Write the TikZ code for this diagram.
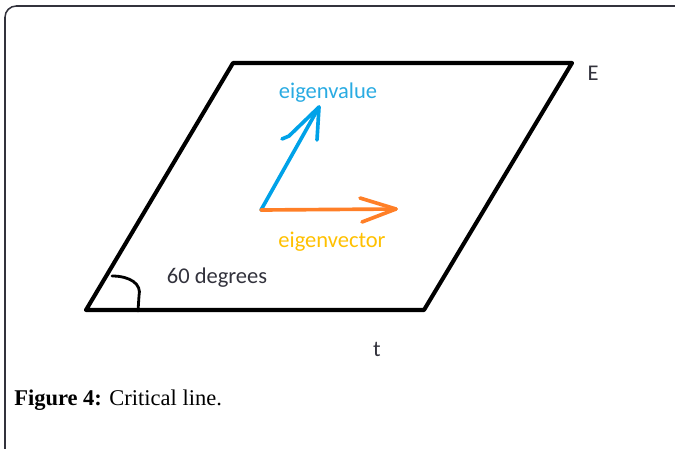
\documentclass[tikz,border=0pt]{standalone}
\usepackage{fontspec}
\setmainfont{Liberation Serif}
\newfontfamily\lblfont{Carlito}
\definecolor{vBlue}{RGB}{0,162,232}
\definecolor{vOrange}{RGB}{255,127,39}
\definecolor{tBlue}{RGB}{41,171,226}
\definecolor{tGold}{RGB}{255,192,0}
\definecolor{tGray}{RGB}{50,50,60}
\tikzset{
  frame/.style={draw=tGray, line width=1.1pt, rounded corners=8},
  plane/.style={draw=black, line width=2.9pt, line join=round, line cap=round},
  vecb/.style={vBlue, line width=2.6pt, line cap=round, line join=round},
  veco/.style={vOrange, line width=2.6pt, line cap=round, line join=round},
  turn/.style={black, line width=2pt, line cap=round},
  lbl/.style={font=\lblfont\fontsize{16}{19}\selectfont, inner sep=0pt, anchor=base},
}

\begin{document}
\begin{tikzpicture}[x=0.025cm, y=-0.025cm]
    \useasboundingbox (0,0) rectangle (675,448);
    \clip (0,0) rectangle (675,448);
    \draw[frame] (5,6) rectangle (690,465);
    % the plane
    \coordinate (tl) at (233,63);
    \coordinate (tr) at (572,63);
    \coordinate (br) at (424,310);
    \coordinate (bl) at (86,310);
    \draw[plane] (tl) -- (tr) -- (br) -- (bl) -- cycle;
    \draw[turn] (112,276) .. controls (130,276) and (142,284) .. (139,296)
      -- (138,311);
    % the two vectors
    \coordinate (o)  at (261,210);
    \coordinate (vt) at (319,107);
    \coordinate (vl) at (282,139);
    \coordinate (vr) at (317,140);
    \coordinate (ot) at (396,209);
    \coordinate (ou) at (360,198);
    \coordinate (od) at (362,222);
    \draw[vecb] (o) -- (vt);
    \draw[vecb] (vl) -- (289,136) -- (vt) -- (vr);
    \draw[veco] (o) -- (ot);
    \draw[veco] (ou) -- (ot) -- (od);
    % labels
    \node[lbl, tBlue]  (ev) at (328,98)  {eigenvalue};
    \node[lbl, tGold]  (ec) at (332,247) {eigenvector};
    \node[lbl, tGray]  (an) at (217,283) {60 degrees};
    \node[lbl, tGray]  (E)  at (593,80)  {E};
    \node[lbl, tGray]  (t)  at (377,356) {t};
    \node[font=\fontsize{16}{19}\selectfont, inner sep=0pt, anchor=base west] (cap) at (14,405)
      {\textbf{Figure 4:} Critical line.};
\end{tikzpicture}
\end{document}
